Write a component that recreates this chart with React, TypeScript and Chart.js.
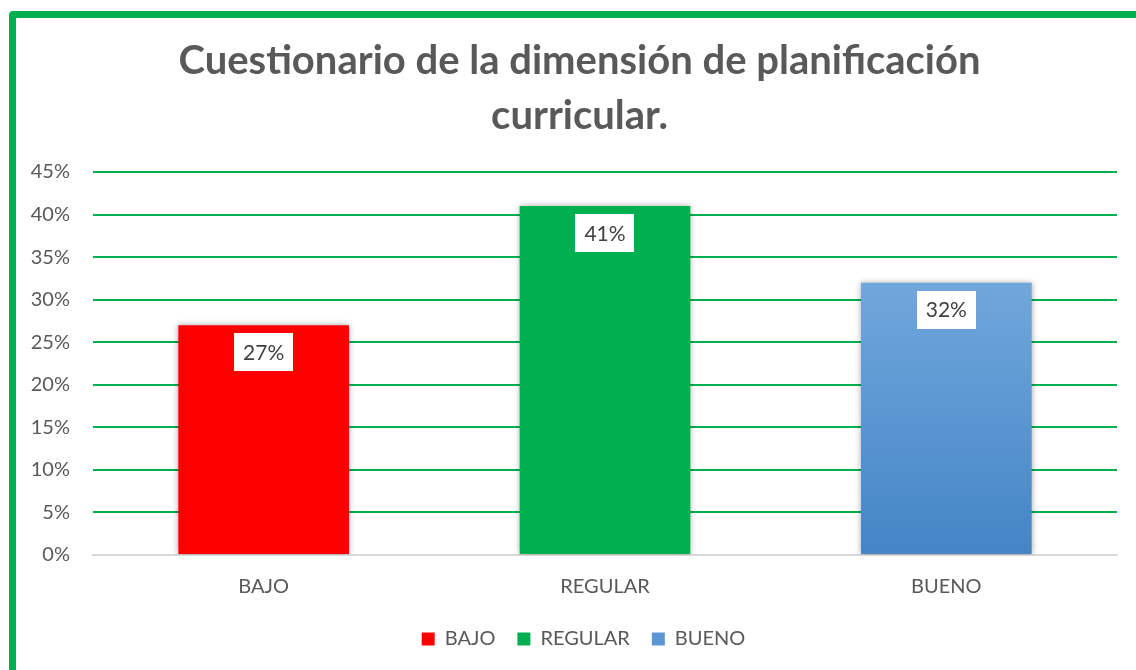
import React, { useEffect, useRef } from "react";
import { Chart, registerables } from "chart.js";

Chart.register(...registerables);

const categories = ["BAJO", "REGULAR", "BUENO"];
const seriesNames = ["BAJO", "REGULAR", "BUENO"];
const values = [27, 41, 32];
const yTicks = [0, 5, 10, 15, 20, 25, 30, 35, 40, 45];
const titleLines = ["Cuestionario de la dimensión de planificación", "curricular."];

const FONT = "Lato, 'Open Sans', sans-serif";
const RED = "#ff0000";
const GREEN = "#00b050";
const BLUE_TOP = "#70a7dc";
const BLUE_BOTTOM = "#4485c6";

export default function App() {
  const ref = useRef<HTMLCanvasElement | null>(null);

  useEffect(() => {
    if (!ref.current) return;

    const blueFill = (ctx: any) => {
      const chart = ctx.chart;
      const area = chart.chartArea;
      if (!area) return BLUE_BOTTOM;
      const yTop = chart.scales.y.getPixelForValue(values[2]);
      const g = chart.ctx.createLinearGradient(0, yTop, 0, area.bottom);
      g.addColorStop(0, BLUE_TOP);
      g.addColorStop(1, BLUE_BOTTOM);
      return g;
    };

    const colors: any[] = [RED, GREEN, blueFill];
    const legendColors = [RED, GREEN, "#5b97d4"];

    const datasets = seriesNames.map((name, i) => ({
      label: name,
      data: values.map((v, j) => (j === i ? v : null)),
      backgroundColor: colors[i],
      borderWidth: 0,
      grouped: false,
      barPercentage: 0.5,
      categoryPercentage: 1,
    }));

    const shiftPlugin = {
      id: "shiftBlocks",
      afterLayout(chart: any) {
        if (chart.titleBlock) chart.titleBlock.left += 42;
        if (chart.legend) chart.legend.left += 50;
      },
    };

    const shadowPlugin = {
      id: "barShadow",
      beforeDatasetsDraw(chart: any) {
        const c = chart.ctx;
        c.save();
        c.shadowColor = "rgba(0,0,0,0.35)";
        c.shadowBlur = 6;
        c.shadowOffsetX = 0;
        c.shadowOffsetY = 0;
      },
      afterDatasetsDraw(chart: any) {
        chart.ctx.restore();
      },
    };

    const labelPlugin = {
      id: "boxLabels",
      afterDraw(chart: any) {
        const c = chart.ctx;
        c.save();
        c.font = `21px ${FONT}`;
        c.textAlign = "center";
        c.textBaseline = "middle";
        chart.data.datasets.forEach((ds: any, i: number) => {
          const meta = chart.getDatasetMeta(i);
          meta.data.forEach((bar: any, j: number) => {
            const v = ds.data[j];
            if (v == null) return;
            const text = `${v}%`;
            const w = c.measureText(text).width + 18;
            const h = 38;
            const top = bar.y + 8;
            c.fillStyle = "#ffffff";
            c.fillRect(Math.round(bar.x - w / 2), Math.round(top), Math.round(w), h);
            c.fillStyle = "#404040";
            c.fillText(text, bar.x, top + h / 2 + 1);
          });
        });
        c.restore();
      },
    };

    const chart = new Chart(ref.current, {
      type: "bar",
      data: { labels: categories, datasets },
      options: {
        responsive: false,
        animation: false,
        layout: { padding: { left: 0, right: 19, top: 34, bottom: 11 } },
        plugins: {
          title: {
            display: true,
            text: titleLines,
            color: "#595959",
            font: { family: FONT, size: 40, weight: "bold", lineHeight: 55 / 40 },
            padding: { top: 0, bottom: 28 },
          },
          legend: {
            display: true,
            position: "bottom",
            labels: {
              color: "#595959",
              font: { family: FONT, size: 20 },
              boxWidth: 13,
              boxHeight: 13,
              padding: 22,
              generateLabels: () =>
                seriesNames.map((n, i) => ({
                  text: n,
                  fillStyle: legendColors[i],
                  strokeStyle: legendColors[i],
                  lineWidth: 0,
                  hidden: false,
                  datasetIndex: i,
                  fontColor: "#595959",
                })),
            },
          },
          tooltip: { enabled: false },
        },
        scales: {
          x: {
            grid: { display: false, drawTicks: false },
            border: { display: true, color: "#d9d9d9", width: 2 },
            afterFit: (scale: any) => {
              scale.height = 52;
            },
            ticks: {
              color: "#595959",
              font: { family: FONT, size: 20 },
              padding: 20,
            },
          },
          y: {
            min: 0,
            max: 45,
            afterBuildTicks: (scale: any) => {
              scale.ticks = yTicks.map((v) => ({ value: v }));
            },
            afterFit: (scale: any) => {
              scale.width = 93;
            },
            grid: {
              drawTicks: false,
              lineWidth: 2,
              color: (ctx: any) => (ctx.tick && ctx.tick.value === 0 ? "#d9d9d9" : GREEN),
            },
            border: { display: false },
            ticks: {
              color: "#595959",
              font: { family: FONT, size: 20 },
              padding: 23,
              callback: (v: any) => `${v}%`,
            },
          },
        },
      },
      plugins: [shiftPlugin, shadowPlugin, labelPlugin],
    });

    return () => chart.destroy();
  }, []);

  return (
    <div
      style={{
        position: "absolute",
        left: 0,
        top: 0,
        width: 1136,
        height: 670,
        overflow: "hidden",
        background: "#ffffff",
      }}
    >
      <div
        style={{
          position: "absolute",
          left: 9,
          top: 11,
          width: 1300,
          height: 900,
          border: `7px solid ${GREEN}`,
          borderRadius: 4,
          boxSizing: "border-box",
        }}
      />
      <canvas
        ref={ref}
        width={1136}
        height={670}
        style={{ position: "absolute", left: 0, top: 0, width: 1136, height: 670 }}
      />
    </div>
  );
}
